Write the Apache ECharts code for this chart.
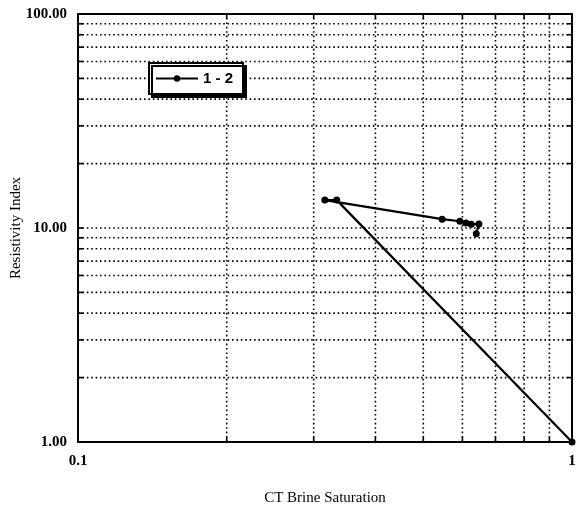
<!DOCTYPE html>
<html>
<head>
<meta charset="utf-8">
<script src="https://cdn.jsdelivr.net/npm/echarts@6/dist/echarts.min.js"></script>
<style>
  html, body { margin: 0; padding: 0; background: #fff; }
  #chart { width: 576px; height: 512px; }
</style>
</head>
<body>
<div id="chart"></div>
<script>
// Measured curve "1 - 2": brine saturation vs resistivity index
const seriesName = '1 - 2';
const saturation = [1.0, 0.334, 0.316, 0.546, 0.593, 0.610, 0.625, 0.648, 0.640];
const resistivity = [1.0, 13.5, 13.5, 11.0, 10.75, 10.55, 10.4, 10.45, 9.4];

// Axis ranges and grid line positions
const xRange = [0.1, 1];
const yRange = [1, 100];
const xGridValues = [0.2, 0.3, 0.4, 0.5, 0.6, 0.7, 0.8, 0.9];
const yGridValues = [2, 3, 4, 5, 6, 7, 8, 9, 10, 20, 30, 40, 50, 60, 70, 80, 90];

const serif = 'Liberation Serif';

const gridData = [];
yGridValues.forEach(v => gridData.push([xRange[0], v, 0]));
xGridValues.forEach(v => gridData.push([v, yRange[0], 1]));

const chart = echarts.init(document.getElementById('chart'), null, { renderer: 'canvas' });

chart.setOption({
  animation: false,
  backgroundColor: '#fff',
  grid: {
    left: 78, right: 4, top: 14, bottom: 70,
    outerBoundsMode: 'none',
    containLabel: false,
    show: true, borderColor: '#000', borderWidth: 2, backgroundColor: 'transparent'
  },
  legend: {
    left: 149, top: 63,
    orient: 'horizontal',
    padding: [8, 10, 8, 6],
    itemWidth: 42, itemHeight: 8, itemGap: 4,
    backgroundColor: '#fff',
    borderColor: '#000', borderWidth: 2,
    shadowColor: '#000', shadowBlur: 0, shadowOffsetX: 3, shadowOffsetY: 3,
    textStyle: { fontFamily: 'Liberation Sans', fontWeight: 'bold', fontSize: 15, color: '#000' },
    data: [seriesName]
  },
  xAxis: {
    type: 'log', logBase: 10, min: xRange[0], max: xRange[1],
    name: 'CT Brine Saturation', nameLocation: 'middle', nameGap: 49,
    nameMoveOverlap: false,
    nameTextStyle: { fontFamily: serif, fontSize: 15, color: '#000' },
    axisLine: { show: true, lineStyle: { color: '#000', width: 2 } },
    axisTick: { show: false },
    splitLine: { show: false },
    axisLabel: {
      fontFamily: serif, fontWeight: 'bold', fontSize: 15, color: '#000', margin: 12,
      formatter: v => String(v)
    }
  },
  yAxis: {
    type: 'log', logBase: 10, min: yRange[0], max: yRange[1],
    name: 'Resistivity Index', nameLocation: 'middle', nameGap: 54, nameRotate: 90,
    nameMoveOverlap: false,
    nameTextStyle: { fontFamily: serif, fontSize: 15, color: '#000' },
    axisLine: { show: true, lineStyle: { color: '#000', width: 2 } },
    axisTick: { show: false },
    splitLine: { show: false },
    axisLabel: {
      fontFamily: serif, fontWeight: 'bold', fontSize: 15, color: '#000', margin: 11,
      formatter: v => Number(v).toFixed(2)
    }
  },
  series: [
    {
      // dotted grid lines with short solid ticks at the frame
      type: 'custom',
      silent: true,
      clip: false,
      z: 1,
      data: gridData,
      renderItem: function (params, api) {
        const kind = api.value(2);
        let a, b, ta, tb;
        if (kind === 0) {
          const v = api.value(1);
          a = api.coord([xRange[0], v]);
          b = api.coord([xRange[1], v]);
          ta = [a[0] + 5, a[1]];
          tb = [b[0] - 5, b[1]];
        } else {
          const v = api.value(0);
          a = api.coord([v, yRange[0]]);
          b = api.coord([v, yRange[1]]);
          ta = [a[0], a[1] - 5];
          tb = [b[0], b[1] + 5];
        }
        return {
          type: 'group',
          children: [
            {
              type: 'line',
              shape: { x1: a[0], y1: a[1], x2: b[0], y2: b[1] },
              style: { stroke: '#000', lineWidth: 1.6, lineDash: [1.6, 2.8] }
            },
            {
              type: 'line',
              shape: { x1: a[0], y1: a[1], x2: ta[0], y2: ta[1] },
              style: { stroke: '#000', lineWidth: 1.6 }
            },
            {
              type: 'line',
              shape: { x1: b[0], y1: b[1], x2: tb[0], y2: tb[1] },
              style: { stroke: '#000', lineWidth: 1.6 }
            }
          ]
        };
      }
    },
    {
      name: seriesName,
      type: 'line',
      z: 5,
      data: saturation.map((s, i) => [s, resistivity[i]]),
      symbol: 'circle',
      symbolSize: 7,
      lineStyle: { color: '#000', width: 2.2 },
      itemStyle: { color: '#000' }
    }
  ]
});
</script>
</body>
</html>
